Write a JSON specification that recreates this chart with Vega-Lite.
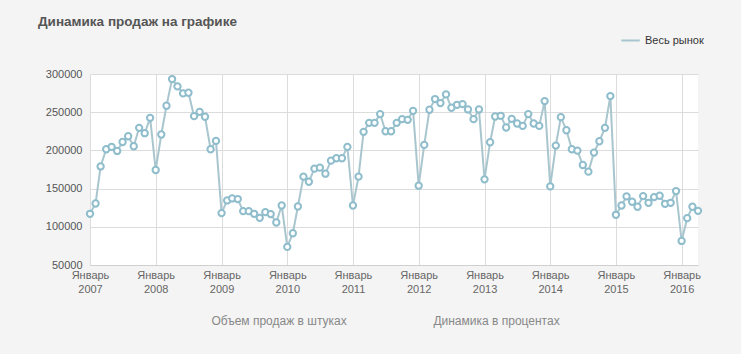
{
  "$schema": "https://vega.github.io/schema/vega-lite/v6.json",
  "width": 608,
  "height": 191,
  "autosize": "none",
  "padding": {"left": 90, "top": 74, "right": 43, "bottom": 89},
  "background": "#f4f4f4",
  "config": {"view": {"fill": "white", "stroke": null}, "font": "Liberation Sans"},
  "title": {"text": "Динамика продаж на графике", "anchor": "start", "frame": "group", "dx": -52, "offset": 2, "font": "Liberation Sans", "fontSize": 13.5, "fontWeight": "bold", "color": "#555"},
  "data": {"values": [
    {"d": "2007-01-01", "v": 117000}, {"d": "2007-02-01", "v": 130500}, {"d": "2007-03-01", "v": 179000}, {"d": "2007-04-01", "v": 201500},
    {"d": "2007-05-01", "v": 204500}, {"d": "2007-06-01", "v": 199300}, {"d": "2007-07-01", "v": 211000}, {"d": "2007-08-01", "v": 218500},
    {"d": "2007-09-01", "v": 205400}, {"d": "2007-10-01", "v": 229500}, {"d": "2007-11-01", "v": 222500}, {"d": "2007-12-01", "v": 242600},
    {"d": "2008-01-01", "v": 174300}, {"d": "2008-02-01", "v": 220800}, {"d": "2008-03-01", "v": 258400}, {"d": "2008-04-01", "v": 293400},
    {"d": "2008-05-01", "v": 283800}, {"d": "2008-06-01", "v": 274600}, {"d": "2008-07-01", "v": 275500}, {"d": "2008-08-01", "v": 244800},
    {"d": "2008-09-01", "v": 250500}, {"d": "2008-10-01", "v": 244000}, {"d": "2008-11-01", "v": 201500}, {"d": "2008-12-01", "v": 212400},
    {"d": "2009-01-01", "v": 117900}, {"d": "2009-02-01", "v": 134500}, {"d": "2009-03-01", "v": 137100}, {"d": "2009-04-01", "v": 136300},
    {"d": "2009-05-01", "v": 120500}, {"d": "2009-06-01", "v": 120500}, {"d": "2009-07-01", "v": 117000}, {"d": "2009-08-01", "v": 111700},
    {"d": "2009-09-01", "v": 119200}, {"d": "2009-10-01", "v": 116600}, {"d": "2009-11-01", "v": 105600}, {"d": "2009-12-01", "v": 127900},
    {"d": "2010-01-01", "v": 73700}, {"d": "2010-02-01", "v": 91600}, {"d": "2010-03-01", "v": 126600}, {"d": "2010-04-01", "v": 165600},
    {"d": "2010-05-01", "v": 159000}, {"d": "2010-06-01", "v": 176100}, {"d": "2010-07-01", "v": 177400}, {"d": "2010-08-01", "v": 169500},
    {"d": "2010-09-01", "v": 186600}, {"d": "2010-10-01", "v": 189700}, {"d": "2010-11-01", "v": 189700}, {"d": "2010-12-01", "v": 204600},
    {"d": "2011-01-01", "v": 127900}, {"d": "2011-02-01", "v": 165600}, {"d": "2011-03-01", "v": 224300}, {"d": "2011-04-01", "v": 236100},
    {"d": "2011-05-01", "v": 236100}, {"d": "2011-06-01", "v": 247500}, {"d": "2011-07-01", "v": 225100}, {"d": "2011-08-01", "v": 225100},
    {"d": "2011-09-01", "v": 236100}, {"d": "2011-10-01", "v": 240900}, {"d": "2011-11-01", "v": 240000}, {"d": "2011-12-01", "v": 251800},
    {"d": "2012-01-01", "v": 153800}, {"d": "2012-02-01", "v": 207200}, {"d": "2012-03-01", "v": 253200}, {"d": "2012-04-01", "v": 267200},
    {"d": "2012-05-01", "v": 261900}, {"d": "2012-06-01", "v": 273300}, {"d": "2012-07-01", "v": 255800}, {"d": "2012-08-01", "v": 259700},
    {"d": "2012-09-01", "v": 260600}, {"d": "2012-10-01", "v": 253600}, {"d": "2012-11-01", "v": 240900}, {"d": "2012-12-01", "v": 253600},
    {"d": "2013-01-01", "v": 162100}, {"d": "2013-02-01", "v": 210700}, {"d": "2013-03-01", "v": 244400}, {"d": "2013-04-01", "v": 245300},
    {"d": "2013-05-01", "v": 230000}, {"d": "2013-06-01", "v": 241300}, {"d": "2013-07-01", "v": 235200}, {"d": "2013-08-01", "v": 232100},
    {"d": "2013-09-01", "v": 247500}, {"d": "2013-10-01", "v": 235200}, {"d": "2013-11-01", "v": 232100}, {"d": "2013-12-01", "v": 264500},
    {"d": "2014-01-01", "v": 152900}, {"d": "2014-02-01", "v": 206300}, {"d": "2014-03-01", "v": 243500}, {"d": "2014-04-01", "v": 226400},
    {"d": "2014-05-01", "v": 201500}, {"d": "2014-06-01", "v": 199700}, {"d": "2014-07-01", "v": 180900}, {"d": "2014-08-01", "v": 172200},
    {"d": "2014-09-01", "v": 197100}, {"d": "2014-10-01", "v": 212000}, {"d": "2014-11-01", "v": 229500}, {"d": "2014-12-01", "v": 271100},
    {"d": "2015-01-01", "v": 115700}, {"d": "2015-02-01", "v": 127900}, {"d": "2015-03-01", "v": 139800}, {"d": "2015-04-01", "v": 132800},
    {"d": "2015-05-01", "v": 126200}, {"d": "2015-06-01", "v": 140200}, {"d": "2015-07-01", "v": 131400}, {"d": "2015-08-01", "v": 138900},
    {"d": "2015-09-01", "v": 140600}, {"d": "2015-10-01", "v": 130100}, {"d": "2015-11-01", "v": 131400}, {"d": "2015-12-01", "v": 146800},
    {"d": "2016-01-01", "v": 81500}, {"d": "2016-02-01", "v": 111300}, {"d": "2016-03-01", "v": 126200}, {"d": "2016-04-01", "v": 120900}
  ]},
  "encoding": {
    "x": {
      "field": "d", "type": "temporal",
      "scale": {"type": "utc", "domain": ["2007-01-01", "2016-04-01"], "nice": false},
      "axis": {
        "tickCount": {"interval": "year", "step": 1},
        "labelExpr": "['Январь', utcFormat(datum.value, '%Y')]",
        "labelFlush": false, "labelOverlap": false,
        "labelFontSize": 11, "labelColor": "#666", "labelPadding": 4, "labelLineHeight": 14,
        "grid": true, "gridColor": "#dcdcdc", "domainColor": "#cfcfcf", "ticks": false,
        "title": "Объем продаж в штуках\u00a0\u00a0\u00a0\u00a0\u00a0\u00a0\u00a0\u00a0\u00a0\u00a0\u00a0\u00a0\u00a0\u00a0\u00a0\u00a0\u00a0\u00a0\u00a0\u00a0\u00a0\u00a0\u00a0\u00a0\u00a0\u00a0Динамика в процентах",
        "titleFont": "Liberation Sans", "titleFontSize": 12, "titleFontWeight": "normal",
        "titleColor": "#888", "titlePadding": 21, "titleX": 295, "titleAlign": "center"
      }
    },
    "y": {
      "field": "v", "type": "quantitative",
      "scale": {"domain": [50000, 300000], "nice": false, "zero": false},
      "axis": {
        "values": [50000, 100000, 150000, 200000, 250000, 300000],
        "format": "d", "labelFontSize": 11, "labelColor": "#555", "labelPadding": 8,
        "grid": true, "gridColor": "#dcdcdc", "domain": false, "ticks": false, "title": null
      }
    }
  },
  "layer": [
    {
      "mark": {"type": "line", "strokeWidth": 2},
      "encoding": {
        "color": {
          "datum": "Весь рынок", "type": "nominal",
          "scale": {"range": ["#a9c6cf"]},
          "legend": {
            "orient": "none", "legendX": 530, "legendY": -44, "title": null,
            "symbolType": "stroke", "symbolSize": 340, "symbolStrokeWidth": 2,
            "labelFontSize": 11, "labelColor": "#333", "labelFont": "Liberation Sans"
          }
        }
      }
    },
    {
      "mark": {"type": "point", "filled": true, "fill": "white", "stroke": "#8fbdcc", "strokeWidth": 2, "size": 40, "opacity": 1},
      "encoding": {}
    }
  ]
}
